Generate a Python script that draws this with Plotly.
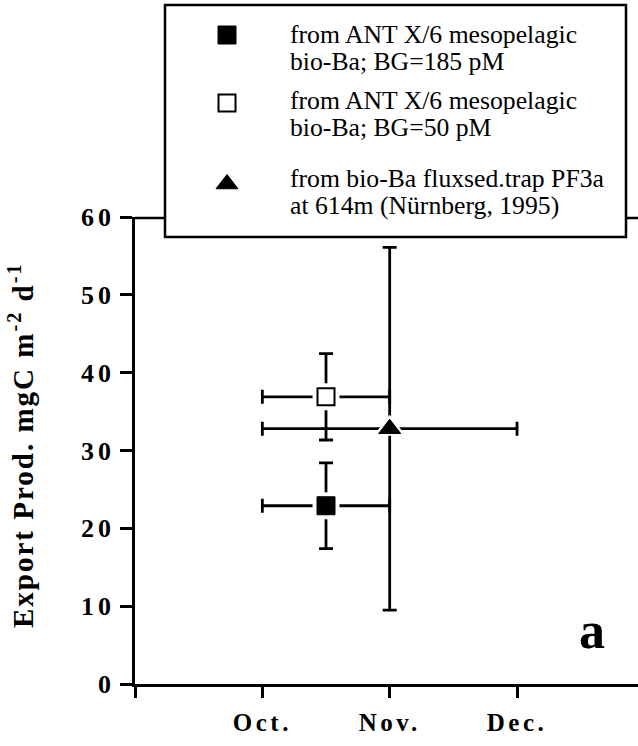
import plotly.graph_objects as go

# ---- data -------------------------------------------------------------
# x positions are month indices: 0 = 1 Sep, 1 = 1 Oct, 2 = 1 Nov, 3 = 1 Dec
month_vals = [0, 1, 2, 3]
month_text = ["", "Oct.", "Nov.", "Dec."]
y_ticks = [0, 10, 20, 30, 40, 50, 60]

series_labels = [
    ["from ANT X/6 mesopelagic", "bio-Ba; BG=185 pM"],
    ["from ANT X/6 mesopelagic", "bio-Ba; BG=50 pM"],
    ["from bio-Ba fluxsed.trap PF3a", "at 614m (Nürnberg, 1995)"],
]
x_month = [1.5, 1.5, 2.0]
x_month_err = [0.5, 0.5, 1.0]
export_prod = [22.9, 36.9, 32.8]
export_prod_err = [5.5, 5.55, 23.3]

# ---- styling ----------------------------------------------------------
W, H = 638, 746
SERIF = "Liberation Serif, Times New Roman, Times, serif"
symbols = ["square", "square", "triangle-up"]
fills = ["black", "white", "black"]
edge_widths = [1, 2, 1]
sizes = [18, 17, 19]
halo_sizes = [27, 27, 28]


def px(x):
    return x / W


def py(y):
    return 1 - y / H


# plot frame in pixels
L, R, T, B = 135, 638, 217, 684
# legend box in pixels
LX0, LX1, LY0, LY1 = 165, 626, 5, 237

fig = go.Figure()

# error bars, with a white halo around each point so the bars stop short of it
for i in range(len(export_prod)):
    fig.add_trace(go.Scatter(
        x=[x_month[i]], y=[export_prod[i]], mode="markers",
        marker=dict(symbol=symbols[i], size=halo_sizes[i], color="white",
                    line=dict(width=0)),
        error_x=dict(type="data", array=[x_month_err[i]], color="black",
                     thickness=2.8, width=7),
        error_y=dict(type="data", array=[export_prod_err[i]], color="black",
                     thickness=2.8, width=7),
        hoverinfo="skip", showlegend=False, cliponaxis=False,
    ))

# the points themselves
for i in range(len(export_prod)):
    fig.add_trace(go.Scatter(
        x=[x_month[i]], y=[export_prod[i]], mode="markers",
        marker=dict(symbol=symbols[i], size=sizes[i], color=fills[i], opacity=1,
                    line=dict(color="black", width=edge_widths[i])),
        name=" ".join(series_labels[i]), showlegend=False, cliponaxis=False,
    ))

# legend swatches on their own small axes inside the legend box
leg_marker_y = [35, 103, 184]
leg_line1_y = [34, 100, 178]
line_gap = 27


def ly(y):
    return (LY1 - y) / (LY1 - LY0)


def lx(x):
    return (x - LX0) / (LX1 - LX0)


fig.add_trace(go.Scatter(
    x=[lx(227)] * 3, y=[ly(v) for v in leg_marker_y], mode="markers",
    marker=dict(symbol=symbols, size=[18, 17, 19], color=fills, opacity=1,
                line=dict(color="black", width=edge_widths)),
    xaxis="x2", yaxis="y2", hoverinfo="skip", showlegend=False,
))

annotations = []
for i, lines in enumerate(series_labels):
    for j, txt in enumerate(lines):
        annotations.append(dict(
            x=lx(288), y=ly(leg_line1_y[i] + j * line_gap), xref="x2", yref="y2",
            text=txt, showarrow=False, xanchor="left", yanchor="middle",
            font=dict(family=SERIF, size=25.7, color="black"),
        ))

# y-axis title
annotations.append(dict(
    x=px(21), y=py(445), xref="paper", yref="paper",
    text='<span style="letter-spacing:2px">Export Prod. mgC m<sup>-2</sup> d<sup>-1</sup></span>',
    textangle=-90, showarrow=False, xanchor="center", yanchor="middle",
    font=dict(family=SERIF, size=29, color="black", weight="bold"),
))

# panel letter
annotations.append(dict(
    x=px(592), y=py(630), xref="paper", yref="paper", text="a",
    showarrow=False, xanchor="center", yanchor="middle",
    font=dict(family=SERIF, size=52, color="black", weight="bold"),
))

shapes = [
    # top frame line
    dict(type="line", xref="paper", yref="paper", layer="below",
         x0=px(L), x1=1, y0=py(T + 1), y1=py(T + 1),
         line=dict(color="black", width=2.5)),
    # legend box (covers the frame line behind it)
    dict(type="rect", xref="paper", yref="paper", layer="below",
         x0=px(LX0), x1=px(LX1), y0=py(LY1), y1=py(LY0),
         line=dict(color="black", width=2.5), fillcolor="white"),
]

fig.update_layout(
    width=W, height=H,
    margin=dict(l=0, r=0, t=0, b=0, autoexpand=False),
    paper_bgcolor="white", plot_bgcolor="rgba(0,0,0,0)",
    font=dict(family=SERIF, color="black"),
    xaxis=dict(
        domain=[px(L), px(R)], range=[0, 3.95], anchor="y",
        tickmode="array", tickvals=month_vals,
        ticktext=[f'<span style="letter-spacing:3.5px">{t}</span>' for t in month_text],
        tickfont=dict(family=SERIF, size=25, color="black", weight="bold"),
        ticks="outside", ticklen=11, tickwidth=2.5, tickcolor="black",
        ticklabelstandoff=3,
        showline=True, linecolor="black", linewidth=2.5,
        showgrid=False, zeroline=False, fixedrange=True, automargin=False,
    ),
    yaxis=dict(
        domain=[py(B), py(T)], range=[0, 60], anchor="x",
        tickmode="array", tickvals=y_ticks,
        ticktext=[f'<span style="letter-spacing:4px">{v}</span>' for v in y_ticks],
        tickfont=dict(family=SERIF, size=26, color="black", weight="bold"),
        ticks="outside", ticklen=12, tickwidth=2.5, tickcolor="black",
        showline=True, linecolor="black", linewidth=2.5,
        showgrid=False, zeroline=False, fixedrange=True, automargin=False,
    ),
    xaxis2=dict(domain=[px(LX0), px(LX1)], range=[0, 1], anchor="y2",
                visible=False, fixedrange=True),
    yaxis2=dict(domain=[py(LY1), py(LY0)], range=[0, 1], anchor="x2",
                visible=False, fixedrange=True),
    annotations=annotations,
    shapes=shapes,
)

fig.write_html("out.html")
